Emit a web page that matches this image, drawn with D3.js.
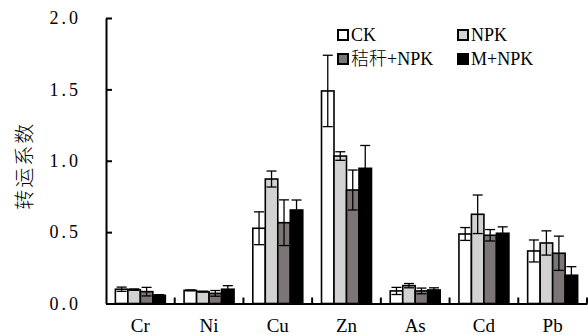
<!DOCTYPE html>
<html>
<head>
<meta charset="utf-8">
<script src="https://cdn.jsdelivr.net/npm/d3@7"></script>
<style>
  body { margin: 0; background: #fff; }
  text { font-family: "Liberation Serif", "Noto Sans CJK SC", serif; fill: #000; }
</style>
</head>
<body>
<svg id="chart"></svg>
<script>
// 元素与处理
const elements = ["Cr", "Ni", "Cu", "Zn", "As", "Cd", "Pb"];
const treatments = ["CK", "NPK", "秸秆+NPK", "M+NPK"];
const colors = ["#ffffff", "#d2d2d2", "#7b7575", "#000000"];

// 转运系数均值 (每个处理一组, 顺序同 elements)
const ckVals    = [0.10, 0.092, 0.527, 1.489, 0.088, 0.487, 0.368];
const npkVals   = [0.097, 0.083, 0.872, 1.033, 0.125, 0.625, 0.424];
const strawVals = [0.083, 0.071, 0.566, 0.795, 0.088, 0.478, 0.352];
const mVals     = [0.057, 0.10, 0.655, 0.947, 0.095, 0.492, 0.198];

// 标准差
const ckErr    = [0.015, 0.003, 0.115, 0.25, 0.025, 0.045, 0.077];
const npkErr   = [0.005, 0.003, 0.056, 0.03, 0.015, 0.135, 0.085];
const strawErr = [0.03, 0.02, 0.16, 0.14, 0.02, 0.04, 0.12];
const mErr     = [0.005, 0.025, 0.07, 0.16, 0.015, 0.045, 0.06];

const yTicks = [0, 0.5, 1.0, 1.5, 2.0];

const allVals = [ckVals, npkVals, strawVals, mVals];
const allErr = [ckErr, npkErr, strawErr, mErr];

const W = 588, H = 335;
const margin = { top: 18, right: 1, bottom: 31.5, left: 106 };
const width = W - margin.left - margin.right;
const height = H - margin.top - margin.bottom;

const svg = d3.select("#chart").attr("width", W).attr("height", H);
const g = svg.append("g").attr("transform", `translate(${margin.left},${margin.top})`);

const x0 = d3.scaleBand().domain(elements).range([0, width]).padding(0);
const x1 = d3.scaleBand().domain(treatments).range([0, x0.bandwidth()])
  .paddingInner(0).paddingOuter(0.75);
const y = d3.scaleLinear().domain([0, 2]).range([height, 0]);

// 数据表
const rows = [];
elements.forEach((el, i) => {
  treatments.forEach((t, j) => {
    rows.push({ el, t, j, v: allVals[j][i], e: allErr[j][i] });
  });
});

// 柱
g.selectAll(".bar").data(rows).enter().append("rect")
  .attr("class", "bar")
  .attr("x", d => x0(d.el) + x1(d.t))
  .attr("y", d => y(d.v))
  .attr("width", x1.bandwidth())
  .attr("height", d => y(0) - y(d.v))
  .attr("fill", d => colors[d.j])
  .attr("stroke", "#000")
  .attr("stroke-width", 1.6);

// 误差线
const capW = 10;
const cx = d => x0(d.el) + x1(d.t) + x1.bandwidth() / 2;
const eb = g.selectAll(".err").data(rows).enter().append("g").attr("class", "err")
  .attr("stroke", "#000").attr("stroke-width", 1.3);
eb.append("line")
  .attr("x1", cx).attr("x2", cx)
  .attr("y1", d => y(d.v + d.e))
  .attr("y2", d => y(Math.max(0, d.v - d.e)));
eb.append("line")
  .attr("x1", d => cx(d) - capW / 2).attr("x2", d => cx(d) + capW / 2)
  .attr("y1", d => y(d.v + d.e)).attr("y2", d => y(d.v + d.e));
eb.append("line")
  .attr("x1", d => cx(d) - capW / 2).attr("x2", d => cx(d) + capW / 2)
  .attr("y1", d => y(Math.max(0, d.v - d.e)))
  .attr("y2", d => y(Math.max(0, d.v - d.e)));

// y 轴
const yAxis = g.append("g")
  .call(d3.axisLeft(y).tickValues(yTicks).tickFormat(d3.format(".1f"))
    .tickSizeInner(-6).tickSizeOuter(0).tickPadding(28));
yAxis.select(".domain").attr("stroke-width", 2);
yAxis.selectAll(".tick line").attr("stroke-width", 2);
yAxis.selectAll("text").style("font-size", "18px").style("letter-spacing", "3px")
  .attr("dx", 3);

// x 轴
const xAxis = g.append("g").attr("transform", `translate(0,${height})`)
  .call(d3.axisBottom(x0).tickSize(0).tickPadding(15));
xAxis.select(".domain").attr("stroke-width", 2);
xAxis.selectAll("text").style("font-size", "19px");
// 分类间刻度 (向上)
const bounds = elements.map(el => x0(el) + x0.bandwidth());
g.selectAll(".xtick").data(bounds).enter().append("line")
  .attr("x1", d => d).attr("x2", d => d)
  .attr("y1", height).attr("y2", height - 6)
  .attr("stroke", "#000").attr("stroke-width", 2);

// y 轴标题
svg.append("text")
  .attr("transform", `translate(32,${margin.top + height / 2 + 5}) rotate(-90)`)
  .attr("text-anchor", "middle")
  .style("font-size", "20px")
  .style("letter-spacing", "2px")
  .style("font-weight", "300")
  .text("转运系数");

// 图例
const legendPos = [[338, 30], [458, 30], [338, 54], [458, 54]];
const lg = svg.append("g");
treatments.forEach((t, j) => {
  const [lx, ly] = legendPos[j];
  lg.append("rect").attr("x", lx).attr("y", ly).attr("width", 10).attr("height", 10)
    .attr("fill", colors[j]).attr("stroke", "#000").attr("stroke-width", 2);
  lg.append("text").attr("x", lx + 13).attr("y", ly + 11)
    .style("font-size", "18px").style("font-weight", "300").text(t);
});
</script>
</body>
</html>
